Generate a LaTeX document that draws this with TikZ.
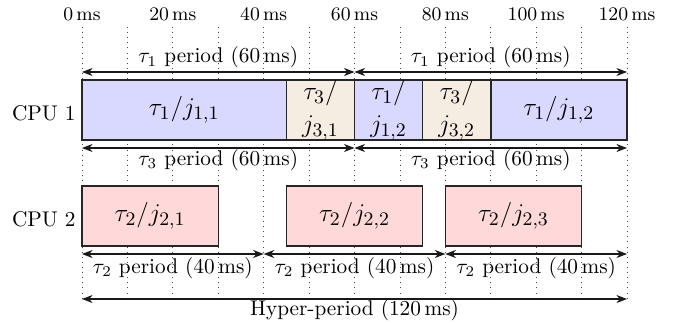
\documentclass[tikz,border=0pt]{standalone}
\usetikzlibrary{arrows.meta}
\definecolor{tonecol}{RGB}{217,217,255}
\definecolor{ttwocol}{RGB}{255,217,217}
\definecolor{tthreecol}{RGB}{245,236,226}
\newcommand\tpos[1]{82+4.541667*#1}
\begin{document}
\begin{tikzpicture}[x=0.47pt,y=-0.47pt,
  gridline/.style={dotted, line width=0.4pt, black!70},
  jobbox/.style={draw=black!85, line width=0.7pt, inner sep=0pt, outer sep=0pt,
    font=\fontsize{13}{15.5}\selectfont, align=center, anchor=west, minimum height=28.2pt,
    minimum width={4.541667*0.47pt*#1}},
  spanarrow/.style={{Stealth[length=5pt,width=3.8pt]}-{Stealth[length=5pt,width=3.8pt]}, line width=0.5pt, black!90},
  spanlabel/.style={anchor=base, inner sep=0pt},
  timelabel/.style={anchor=base, inner sep=0pt, font=\small},
  cpulabel/.style={anchor=base east, inner sep=0pt}]
\useasboundingbox (0,0) rectangle (676,324);

% grid lines
\foreach \t in {0,10,...,120}
  \draw[gridline] ({\tpos{\t}},27) -- ({\tpos{\t}},299);

% time labels
\foreach \t in {0,20,...,120}
  \node[timelabel] (tl\t) at ({\tpos{\t}},21) {\t\,ms};

% CPU labels
\node[cpulabel] (cpu1) at (76,120) {CPU 1};
\node[cpulabel] (cpu2) at (76,226) {CPU 2};

% CPU 1 jobs
\node[jobbox=45, fill=tonecol] (j11) at ({\tpos{0}},110) {$\tau_1/j_{1,1}$};
\node[jobbox=15, fill=tthreecol] (j31) at ({\tpos{45}},110) {$\tau_3/$\\$j_{3,1}$};
\node[jobbox=15, fill=tonecol] (j12a) at ({\tpos{60}},110) {$\tau_1/$\\$j_{1,2}$};
\node[jobbox=15, fill=tthreecol] (j32) at ({\tpos{75}},110) {$\tau_3/$\\$j_{3,2}$};
\node[jobbox=30, fill=tonecol] (j12b) at ({\tpos{90}},110) {$\tau_1/j_{1,2}$};

% CPU 2 jobs
\node[jobbox=30, fill=ttwocol] (j21) at ({\tpos{0}},216) {$\tau_2/j_{2,1}$};
\node[jobbox=30, fill=ttwocol] (j22) at ({\tpos{45}},216) {$\tau_2/j_{2,2}$};
\node[jobbox=30, fill=ttwocol] (j23) at ({\tpos{80}},216) {$\tau_2/j_{2,3}$};

% arrow end points
\foreach \t in {0,60,120} {
  \coordinate (a\t) at ({\tpos{\t}},72);
  \coordinate (b\t) at ({\tpos{\t}},148);
}
\foreach \t in {0,40,80,120}
  \coordinate (c\t) at ({\tpos{\t}},254);
\coordinate (h0) at ({\tpos{0}},299);
\coordinate (h120) at ({\tpos{120}},299);

% tau1 periods
\draw[spanarrow] (a0) -- (a60);
\draw[spanarrow] (a60) -- (a120);
\node[spanlabel] (l1a) at ({\tpos{30}},63) {$\tau_1$ period (60\,ms)};
\node[spanlabel] (l1b) at ({\tpos{90}},63) {$\tau_1$ period (60\,ms)};

% tau3 periods
\draw[spanarrow] (b0) -- (b60);
\draw[spanarrow] (b60) -- (b120);
\node[spanlabel] (l3a) at ({\tpos{30}},165) {$\tau_3$ period (60\,ms)};
\node[spanlabel] (l3b) at ({\tpos{90}},165) {$\tau_3$ period (60\,ms)};

% tau2 periods
\draw[spanarrow] (c0) -- (c40);
\draw[spanarrow] (c40) -- (c80);
\draw[spanarrow] (c80) -- (c120);
\node[spanlabel] (l2a) at ({\tpos{20}},273) {$\tau_2$ period (40\,ms)};
\node[spanlabel] (l2b) at ({\tpos{60}},273) {$\tau_2$ period (40\,ms)};
\node[spanlabel] (l2c) at ({\tpos{100}},273) {$\tau_2$ period (40\,ms)};

% hyper-period
\draw[spanarrow] (h0) -- (h120);
\node[spanlabel] (lh) at ({\tpos{60}},315) {Hyper-period (120\,ms)};
\end{tikzpicture}
\end{document}
